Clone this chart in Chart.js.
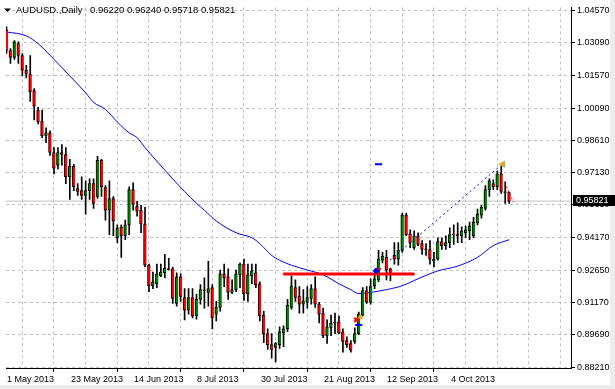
<!DOCTYPE html>
<html>
<head>
<meta charset="utf-8">
<script src="https://cdn.jsdelivr.net/npm/chart.js@4.4.1/dist/chart.umd.min.js"></script>
<style>
html,body{margin:0;padding:0;background:#fff}
canvas{display:block}
</style>
</head>
<body>
<canvas id="ch" width="615" height="389"></canvas>
<script>
// AUDUSD daily, 1 May 2013 .. ~25 Oct 2013 (bar index 0..127)
const opens  = [1.0367,1.0273,1.0241,1.0304,1.0250,1.0183,1.0165,1.0089,0.9999,0.9949,
  0.9882,0.9895,0.9805,0.9747,0.9805,0.9796,0.9693,0.9742,0.9639,0.9630,
  0.9608,0.9630,0.9662,0.9603,0.9769,0.9644,0.9540,0.9594,0.9414,0.9464,
  0.9423,0.9473,0.9635,0.9558,0.9540,0.9477,0.9288,0.9194,0.9203,0.9239,
  0.9253,0.9271,0.9271,0.9113,0.9235,0.9140,0.9082,0.9140,0.9055,0.9131,
  0.9172,0.9163,0.9185,0.9064,0.9095,0.9248,0.9235,0.9163,0.9176,0.9244,
  0.9293,0.9158,0.9239,0.9253,0.9203,0.9059,0.8974,0.8924,0.8911,0.8924,
  0.8978,0.8996,0.9095,0.9185,0.9145,0.9109,0.9118,0.9136,0.9181,0.9109,
  0.9068,0.8965,0.9001,0.9023,0.9028,0.8983,0.8942,0.8929,0.8938,0.8974,
  0.9059,0.9172,0.9118,0.9194,0.9221,0.9311,0.9324,0.9271,0.9333,0.9316,
  0.9356,0.9518,0.9432,0.9369,0.9423,0.9387,0.9360,0.9360,0.9307,0.9316,
  0.9396,0.9378,0.9392,0.9428,0.9423,0.9423,0.9437,0.9446,0.9423,0.9482,
  0.9518,0.9549,0.9635,0.9662,0.9648,0.9707,0.9626,0.96220];
const highs  = [1.0381,1.0282,1.0318,1.0313,1.0259,1.0205,1.0250,1.0098,1.0012,0.9999,
  0.9918,0.9904,0.9828,0.9828,0.9841,0.9828,0.9774,0.9751,0.9662,0.9693,
  0.9675,0.9684,0.9684,0.9787,0.9774,0.9653,0.9675,0.9603,0.9473,0.9473,
  0.9495,0.9648,0.9666,0.9581,0.9563,0.9554,0.9293,0.9257,0.9293,0.9293,
  0.9338,0.9320,0.9280,0.9253,0.9248,0.9181,0.9181,0.9181,0.9154,0.9199,
  0.9230,0.9306,0.9199,0.9122,0.9266,0.9293,0.9271,0.9221,0.9266,0.9298,
  0.9316,0.9293,0.9293,0.9293,0.9212,0.9077,0.8996,0.8974,0.8933,0.9005,
  0.9010,0.9131,0.9239,0.9221,0.9190,0.9176,0.9190,0.9199,0.9235,0.9118,
  0.9091,0.9037,0.9059,0.9068,0.9055,0.8996,0.8960,0.8942,0.9001,0.9073,
  0.9185,0.9190,0.9226,0.9248,0.9356,0.9347,0.9356,0.9275,0.9392,0.9392,
  0.9527,0.9527,0.9450,0.9446,0.9437,0.9401,0.9387,0.9401,0.9347,0.9414,
  0.9414,0.9423,0.9459,0.9473,0.9482,0.9464,0.9468,0.9486,0.9508,0.9545,
  0.9563,0.9653,0.9684,0.9680,0.9720,0.9742,0.9670,0.96240];
const lows   = [1.0259,1.0214,1.0232,1.0214,1.0156,1.0147,1.0039,0.9954,0.9936,0.9873,
  0.9850,0.9792,0.9707,0.9729,0.9747,0.9662,0.9590,0.9630,0.9608,0.9590,
  0.9522,0.9590,0.9549,0.9594,0.9603,0.9495,0.9428,0.9423,0.9392,0.9324,
  0.9405,0.9428,0.9540,0.9513,0.9437,0.9280,0.9167,0.9181,0.9185,0.9235,
  0.9230,0.9266,0.9113,0.9100,0.9122,0.9037,0.9064,0.9046,0.9041,0.9109,
  0.9091,0.9100,0.8996,0.9032,0.9077,0.9190,0.9131,0.9158,0.9167,0.9185,
  0.9127,0.9122,0.9203,0.9185,0.9032,0.8933,0.8902,0.8862,0.8844,0.8906,
  0.8915,0.8983,0.9086,0.9122,0.9068,0.9068,0.9091,0.9109,0.9095,0.9023,
  0.8956,0.8929,0.8965,0.8974,0.8974,0.8889,0.8911,0.8889,0.8929,0.8970,
  0.9055,0.9113,0.9109,0.9181,0.9212,0.9298,0.9221,0.9217,0.9293,0.9288,
  0.9347,0.9423,0.9369,0.9360,0.9378,0.9338,0.9333,0.9293,0.9280,0.9311,
  0.9360,0.9360,0.9369,0.9383,0.9392,0.9392,0.9414,0.9405,0.9414,0.9473,
  0.9504,0.9540,0.9603,0.9635,0.9635,0.9617,0.9572,0.95718];
const closes = [1.0273,1.0241,1.0313,1.0250,1.0183,1.0165,1.0084,1.0017,0.9945,0.9882,
  0.9895,0.9805,0.9733,0.9805,0.9796,0.9693,0.9742,0.9648,0.9626,0.9608,
  0.9630,0.9662,0.9572,0.9769,0.9648,0.9540,0.9594,0.9491,0.9459,0.9423,
  0.9473,0.9635,0.9567,0.9536,0.9477,0.9288,0.9194,0.9212,0.9248,0.9257,
  0.9275,0.9268,0.9136,0.9235,0.9145,0.9082,0.9140,0.9055,0.9131,0.9176,
  0.9171,0.9181,0.9046,0.9095,0.9248,0.9230,0.9163,0.9176,0.9248,0.9293,
  0.9158,0.9244,0.9262,0.9199,0.9055,0.8974,0.8924,0.8902,0.8929,0.8983,
  0.8996,0.9104,0.9194,0.9140,0.9109,0.9122,0.9140,0.9181,0.9109,0.9064,
  0.8965,0.9005,0.9023,0.9022,0.8978,0.8938,0.8924,0.8898,0.8974,0.9064,
  0.9172,0.9118,0.9190,0.9226,0.9316,0.9329,0.9266,0.9248,0.9316,0.9356,
  0.9518,0.9428,0.9392,0.9423,0.9383,0.9360,0.9359,0.9316,0.9316,0.9396,
  0.9378,0.9392,0.9428,0.9426,0.9428,0.9446,0.9450,0.9468,0.9486,0.9522,
  0.9554,0.9635,0.9675,0.9648,0.9707,0.9626,0.9621,0.95821];

// moving average (blue), read at a few bars
const maIdx  = [0,5,8,12,16,20,22,25,28,31,33,35,40,45,48,50,53,58,62,64,67,69,72,76,80,84,87,89,92,96,100,104,109,114,119,123,127];
const maVals = [1.0358,1.0340,1.0304,1.0232,1.0156,1.0079,1.0035,1.0003,0.9945,0.9895,0.9873,0.9828,0.9724,0.9626,0.9572,0.9540,0.9491,0.9437,0.9414,0.9387,0.9333,0.9311,0.9288,0.9266,0.9244,0.9203,0.9176,0.9158,0.9163,0.9176,0.9194,0.9226,0.9262,0.9284,0.9324,0.9378,0.9405];

// drawn objects
const levelLine  = {x0:69.9, x1:103.1, y:0.9248};               // red horizontal level
const trendLine  = {x0:96.9, y0:0.9311, x1:124.6, y1:0.9742};   // blue dotted trend
const fallLine   = {x0:125.9, y0:0.9666, x1:128.1, y1:0.9577};  // red dotted
const topMark    = {x:125.4, y:0.9751};

const xTickIdx    = [0,16,32,48,64,80,96,112];
const xTickLabels = ['1 May 2013','23 May 2013','14 Jun 2013','8 Jul 2013','30 Jul 2013','21 Aug 2013','12 Sep 2013','4 Oct 2013'];
const xGridIdx    = [0,8,16,24,32,40,48,56,64,72,80,88,96,104,112,120,128,136];
const yTickValues = [1.0457,1.0309,1.0157,1.0009,0.9861,0.9713,0.9565,0.9417,0.9265,0.9117,0.8969,0.8821];

const symbol = 'AUDUSD.,Daily';
const FONT = '"Liberation Sans", Arial, sans-serif';
const lastClose = closes[closes.length-1];

Chart.defaults.font.family = FONT;
Chart.defaults.font.size = 9;
Chart.defaults.color = '#000';

const idx = closes.map((_, i) => i);
const seg = (x0, y0, x1, y1) => [{x:x0, y:y0}, {x:x1, y:y1}];
const lineDs = (data, color, width, order, extra) => Object.assign({
  type:'line', data, borderColor:color, backgroundColor:color, borderWidth:width,
  pointRadius:0, borderCapStyle:'butt', order
}, extra || {});

const chrome = {
  id:'chrome',
  beforeDraw(c){
    const ctx = c.ctx;
    ctx.save();
    ctx.fillStyle = '#fff';
    ctx.fillRect(0, 0, c.width, c.height);
    ctx.fillStyle = '#ececec';
    ctx.fillRect(610, 0, 5, c.height);
    ctx.fillRect(0, 385, c.width, 4);
    ctx.restore();
  },
  afterDraw(c){
    const ctx = c.ctx, a = c.chartArea, xs = c.scales.x;
    const py = Math.round(c.scales.y.getPixelForValue(lastClose));
    ctx.save();
    ctx.textAlign = 'left';
    // date labels, left edge on the tick (MT4 style)
    ctx.fillStyle = '#000';
    ctx.font = '9px ' + FONT;
    ctx.textBaseline = 'top';
    xTickIdx.forEach((v, k) => ctx.fillText(xTickLabels[k], Math.round(xs.getPixelForValue(v)) + 1, a.bottom + 7));
    // last price tag
    ctx.fillRect(a.right + 2, py - 6, 44, 11);
    ctx.fillStyle = '#fff';
    ctx.textBaseline = 'middle';
    ctx.fillText(lastClose.toFixed(5), a.right + 5, py);
    // header
    ctx.fillStyle = '#000';
    ctx.beginPath();
    ctx.moveTo(4, 8.5); ctx.lineTo(11, 8.5); ctx.lineTo(7.5, 12); ctx.closePath();
    ctx.fill();
    ctx.font = '9.5px ' + FONT;
    ctx.fillText(symbol, 16, 10.5);
    const n = closes.length - 1;
    ctx.fillText([opens[n], highs[n], lows[n], closes[n]].map(v => v.toFixed(5)).join(' '), 90, 10.5);
    ctx.restore();
  }
};

new Chart(document.getElementById('ch'), {
  type:'bar',
  data:{
    datasets:[
      // markers
      {type:'scatter', data:[topMark], pointStyle:'triangle', rotation:-90, pointRadius:3.5,
        backgroundColor:'#daa520', borderColor:'#daa520', borderWidth:1, order:0},
      {type:'scatter', data:[{x:88.4, y:0.9037}], pointStyle:'crossRot', pointRadius:3,
        borderColor:'#ff0000', borderWidth:2, order:0},
      {type:'scatter', data:[{x:89.4, y:0.9050}], pointStyle:'triangle', pointRadius:2.5,
        backgroundColor:'#ffa500', borderColor:'#ffa500', order:0},
      {type:'scatter', data:[{x:93.4, y:0.9262}], pointStyle:'rectRot', pointRadius:3,
        backgroundColor:'#0000ff', borderColor:'#0000ff', order:0},
      lineDs(seg(93.1, 0.9271, 94.6, 0.9271), '#ff0000', 2, 0),
      lineDs(seg(88.1, 0.9014, 89.9, 0.9014), '#0000ff', 2, 0),
      lineDs(seg(93.1, 0.97514, 94.9, 0.97514), '#0000ff', 2, 0),
      lineDs(seg(levelLine.x0, levelLine.y, levelLine.x1, levelLine.y), '#ff0000', 3, 1),
      lineDs(seg(trendLine.x0, trendLine.y0, trendLine.x1, trendLine.y1), '#0000ff', 1, 1, {borderDash:[2,3]}),
      lineDs(seg(fallLine.x0, fallLine.y0, fallLine.x1, fallLine.y1), '#ff0000', 1, 1, {borderDash:[2,2]}),
      // candles: body 3px, outline on left/top/bottom so the colour shows
      {type:'bar', data: idx.map(i => ({x:i, y:[opens[i], closes[i]]})),
        backgroundColor: idx.map(i => closes[i] >= opens[i] ? '#008000' : '#ff0000'),
        borderColor:'#000', borderWidth:{left:1, right:0, top:1, bottom:1}, borderSkipped:false,
        barThickness:3, minBarLength:1, grouped:false, order:2},
      {type:'bar', data: idx.map(i => ({x:i, y:[lows[i], highs[i]]})),
        backgroundColor:'#000', borderWidth:0, barThickness:1, grouped:false, order:3},
      // moving average
      lineDs(maIdx.map((v, k) => ({x:v, y:maVals[k]})), '#0000ff', 1, 4, {cubicInterpolationMode:'monotone'}),
      // last price line
      lineDs(seg(-0.125, lastClose, 142.625, lastClose), '#c0c0c0', 1, 6)
    ]
  },
  options:{
    responsive:false,
    animation:false,
    events:[],
    layout:{padding:0},
    plugins:{legend:{display:false}, tooltip:{enabled:false}, title:{display:false}},
    scales:{
      x:{
        type:'linear', min:-0.125, max:142.625, offset:false,
        afterBuildTicks: s => { s.ticks = xGridIdx.map(v => ({value:v})); },
        afterFit: s => { s.height = 21; },
        ticks:{autoSkip:false, maxRotation:0, padding:2, callback: () => ''},
        grid:{color:'#c0c0c0', tickLength:4,
          tickColor: ctx => (ctx.tick && xTickIdx.includes(ctx.tick.value)) ? '#000' : 'rgba(0,0,0,0)'},
        border:{color:'#000', width:1, dash:[3,3]}
      },
      y:{
        type:'linear', position:'right', min:0.88166, max:1.04705,
        afterBuildTicks: s => { s.ticks = yTickValues.map(v => ({value:v})); },
        afterFit: s => { s.width = 44; },
        ticks:{autoSkip:false, padding:2, color:'#000', callback: v => v.toFixed(5)},
        grid:{color:'#c0c0c0', tickLength:4, tickColor:'#000'},
        border:{color:'#000', width:1, dash:[3,3]}
      }
    }
  },
  plugins:[chrome]
});
</script>
</body>
</html>
